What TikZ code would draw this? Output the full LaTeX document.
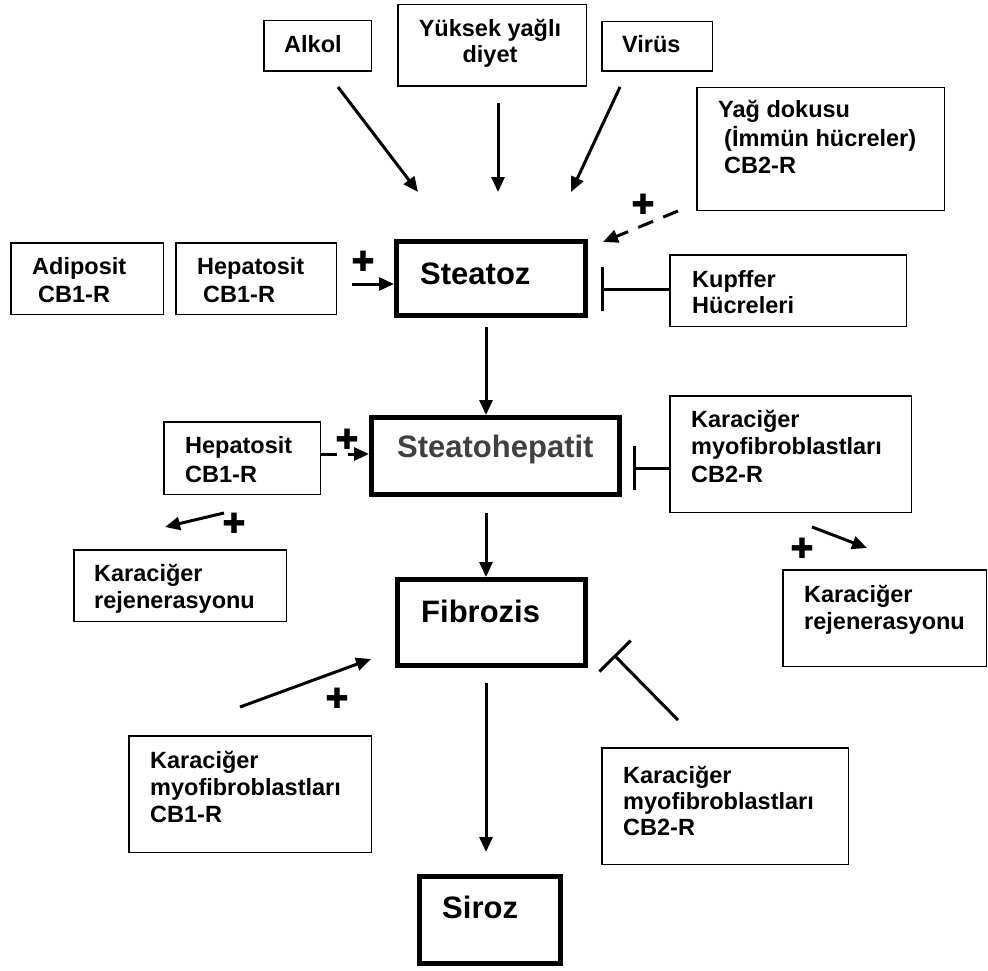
\documentclass[tikz,border=0pt]{standalone}
\usepackage{fontspec}
\setmainfont{Liberation Sans}
\newfontfamily\symfont{DejaVu Sans}
\usetikzlibrary{arrows.meta}
\definecolor{txtgray}{HTML}{404040}
\begin{document}
\begin{tikzpicture}[x=1pt,y=-1pt,
  box/.style={draw, line width=1.5pt, inner sep=0pt},
  mainbox/.style={draw, line width=5pt, inner sep=0pt},
  txt/.style={anchor=base west, inner sep=0pt, align=left, font=\bfseries\fontsize{23.5}{27.5}\selectfont},
  bigtxt/.style={anchor=base west, inner sep=0pt, font=\bfseries\fontsize{31}{36}\selectfont},
  arr/.style={line width=3pt, -{Triangle[length=15pt,width=13pt]}},
  dsh/.style={arr, dash pattern=on 16pt off 11pt},
  inh/.style={line width=3pt, -{Bar[width=44pt]}},
  plus/.style={inner sep=0pt, font=\symfont\fontsize{28}{28}\selectfont}
]
\useasboundingbox (0,0) rectangle (988,971);
\fill[white] (0,0) rectangle (988,971);

% boxes
\node[box, minimum width=107.5pt, minimum height=50.5pt] (alkol) at (317.5,46) {};
\node[box, minimum width=188.5pt, minimum height=81.5pt] (yuksek) at (492,45.5) {};
\node[box, minimum width=110.5pt, minimum height=49.5pt] (virus) at (657,46.5) {};
\node[box, minimum width=247.5pt, minimum height=122.5pt] (yag) at (820.5,149) {};
\node[box, minimum width=152.5pt, minimum height=71.5pt] (adiposit) at (87,278.5) {};
\node[box, minimum width=160.5pt, minimum height=71.5pt] (hep1) at (256,278.5) {};
\node[box, minimum width=236.5pt, minimum height=71.5pt] (kupffer) at (788,290.5) {};
\node[box, minimum width=156.5pt, minimum height=72.5pt] (hep2) at (242,458) {};
\node[box, minimum width=241.5pt, minimum height=116.5pt] (myoup) at (790.5,454) {};
\node[box, minimum width=212.5pt, minimum height=71.5pt] (regenl) at (180,585.5) {};
\node[box, minimum width=203.5pt, minimum height=96.5pt] (regenr) at (884.5,618) {};
\node[box, minimum width=242.5pt, minimum height=116.5pt] (myoone) at (250,794) {};
\node[box, minimum width=246.5pt, minimum height=116.5pt] (myolow) at (725,806) {};
\node[mainbox, minimum width=189pt, minimum height=74pt] (steatoz) at (491,278.5) {};
\node[mainbox, minimum width=248pt, minimum height=77pt] (steatohep) at (495.5,456) {};
\node[mainbox, minimum width=188pt, minimum height=86pt] (fibrozis) at (491.5,622.5) {};
\node[mainbox, minimum width=141pt, minimum height=87pt] (siroz) at (490,920) {};

% texts (multi-line nodes are anchored at the baseline of their last line)
\node[txt] (talkol) at (284,53) {Alkol};
\node[txt, anchor=base, align=center, font=\bfseries\fontsize{23.5}{26}\selectfont] (tyuksek) at (490,63) {Yüksek yağlı\\diyet};
\node[txt] (tvirus) at (622,53) {Virüs};
\node[txt, font=\bfseries\fontsize{23.5}{28}\selectfont] (tyag) at (718,174) {Yağ dokusu\\\hspace*{6pt}(İmmün hücreler)\\\hspace*{6pt}CB2-R};
\node[txt] (tadiposit) at (32,302) {Adiposit\\\hspace*{6pt}CB1-R};
\node[txt] (thep1) at (197,302) {Hepatosit\\\hspace*{6pt}CB1-R};
\node[bigtxt] (tsteatoz) at (420,284) {Steatoz};
\node[txt, font=\bfseries\fontsize{23.5}{26}\selectfont] (tkupffer) at (692,313) {Kupffer\\Hücreleri};
\node[txt, font=\bfseries\fontsize{23.5}{29}\selectfont] (thep2) at (185,482) {Hepatosit\\CB1-R};
\node[bigtxt, text=txtgray] (tsteatohep) at (397,457) {Steatohepatit};
\node[txt] (tmyoup) at (691,482) {Karaciğer\\myofibroblastları\\CB2-R};
\node[txt, font=\bfseries\fontsize{23.5}{26.5}\selectfont] (tregenl) at (94,608) {Karaciğer\\rejenerasyonu};
\node[bigtxt] (tfibrozis) at (421,622) {Fibrozis};
\node[txt, font=\bfseries\fontsize{23.5}{27}\selectfont] (tregenr) at (804,629) {Karaciğer\\rejenerasyonu};
\node[txt, font=\bfseries\fontsize{23.5}{27}\selectfont] (tmyoone) at (150,822) {Karaciğer\\myofibroblastları\\CB1-R};
\node[txt, font=\bfseries\fontsize{23.5}{26}\selectfont] (tmyolow) at (623,835) {Karaciğer\\myofibroblastları\\CB2-R};
\node[bigtxt] (tsiroz) at (442,918) {Siroz};

% plus signs
\node[plus] (p1) at (363,261) {✚};
\node[plus] (p2) at (643,204) {✚};
\node[plus] (p3) at (347,439) {✚};
\node[plus] (p4) at (234,523) {✚};
\node[plus] (p5) at (802,548) {✚};
\node[plus] (p6) at (337,698) {✚};

% coordinates for free ends
\coordinate (a1s) at (338,87);  \coordinate (a1e) at (418,192);
\coordinate (a2s) at (498,103); \coordinate (a2e) at (498,192);
\coordinate (a3s) at (620,87);  \coordinate (a3e) at (571,192);
\coordinate (a4s) at (678,211); \coordinate (a4e) at (603,242);
\coordinate (a5s) at (352,284);
\coordinate (k1) at (601,289);
\coordinate (a7s) at (486,327);
\coordinate (h2) at (321,454);
\coordinate (k2) at (633,468);
\coordinate (a10s) at (224,513); \coordinate (a10e) at (165,527);
\coordinate (a11s) at (486,513);
\coordinate (a12s) at (812,527); \coordinate (a12e) at (867,548);
\coordinate (a13s) at (240,707); \coordinate (a13e) at (371,659);
\coordinate (a14s) at (678,720); \coordinate (a14e) at (614,655);
\coordinate (a15s) at (486,683); \coordinate (a15e) at (486,852);

% connectors
\draw[arr] (a1s) -- (a1e);
\draw[arr] (a2s) -- (a2e);
\draw[arr] (a3s) -- (a3e);
\draw[dsh] (a4s) -- (a4e);
\draw[arr] (a5s) -- (a5s -| steatoz.west);
\draw[inh] (k1 -| kupffer.west) -- (k1);
\draw[arr] (a7s) -- (a7s |- steatohep.north);
\draw[dsh] (h2 -| hep2.east) -- (h2 -| steatohep.west);
\draw[inh] (k2 -| myoup.west) -- (k2);
\draw[arr] (a10s) -- (a10e);
\draw[arr] (a11s) -- (a11s |- fibrozis.north);
\draw[arr] (a12s) -- (a12e);
\draw[arr] (a13s) -- (a13e);
\draw[inh] (a14s) -- (a14e);
\draw[arr] (a15s) -- (a15e);
\end{tikzpicture}
\end{document}
